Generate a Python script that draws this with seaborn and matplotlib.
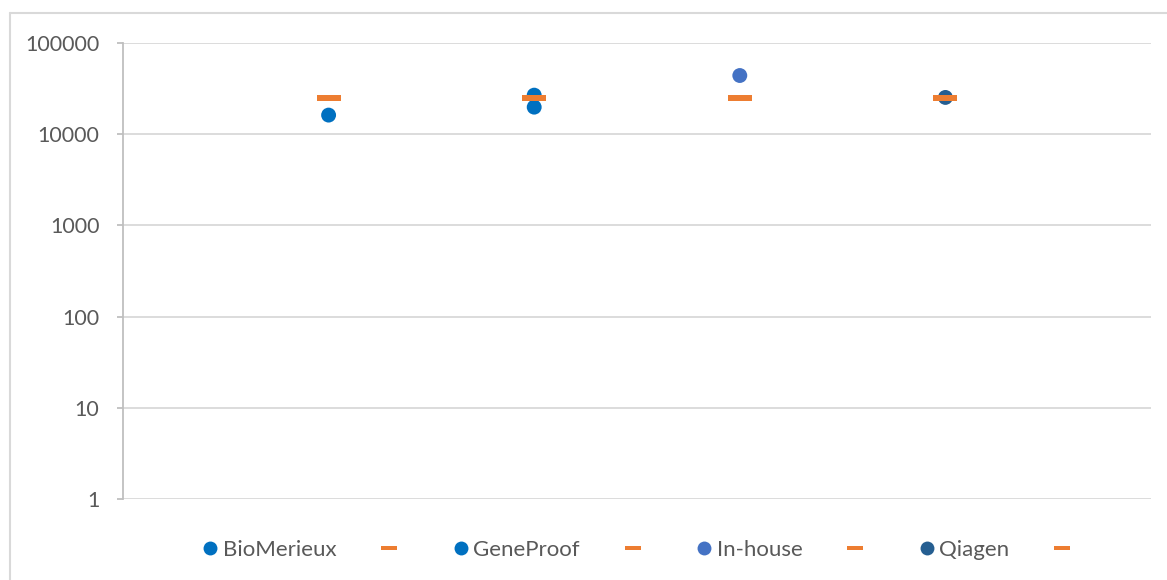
import numpy as np
import pandas as pd
import seaborn as sns
import matplotlib.pyplot as plt
from matplotlib.lines import Line2D
from matplotlib.path import Path

# ---- data ----
series_names = ["BioMerieux", "GeneProof", "In-house", "Qiagen"]
series_x = [1, 2, 3, 4]
biomerieux_vals = [16200]
geneproof_vals = [26800, 19800]
inhouse_vals = [44000]
qiagen_vals = [25300]
reference_vals = [25000, 25000, 25000, 25000]
dot_colors = ["#0070C0", "#0070C0", "#4472C4", "#255E91"]
ref_color = "#ED7D31"
ytick_vals = [1, 10, 100, 1000, 10000, 100000]

sns.set_theme(style="white")
plt.rcParams['font.family'] = ['Lato', 'DejaVu Sans']

rows = []
for name, x, vals in zip(series_names, series_x,
                         [biomerieux_vals, geneproof_vals, inhouse_vals, qiagen_vals]):
    for v in vals:
        rows.append({"series": name, "x": x, "value": v})
dots = pd.DataFrame(rows)
refs = pd.DataFrame({"series": series_names, "x": series_x, "value": reference_vals})

fig = plt.figure(figsize=(11.67, 5.8), dpi=100)
ax = fig.add_axes([123/1167, 1-499/580, (1151-123)/1167, (499-43)/580])

dash = Path([(-1, -0.26), (1, -0.26), (1, 0.26), (-1, 0.26), (-1, -0.26)],
            [Path.MOVETO, Path.LINETO, Path.LINETO, Path.LINETO, Path.CLOSEPOLY])

sns.scatterplot(data=dots, x="x", y="value", hue="series", palette=dot_colors,
                hue_order=series_names, s=115, linewidth=0, legend=False, ax=ax, zorder=3)
sns.scatterplot(data=refs, x="x", y="value", color=ref_color, marker=dash,
                s=280, linewidth=0, legend=False, ax=ax, zorder=4)

ax.set_yscale("log")
ax.set_ylim(1, 100000)
ax.set_xlim(0, 5)
ax.set_yticks(ytick_vals)
ax.set_yticklabels([str(v) for v in ytick_vals])
ax.yaxis.set_minor_locator(plt.NullLocator())
ax.set_xticks([])
ax.set_xlabel("")
ax.set_ylabel("")
ax.grid(axis="y", color="#D9D9D9", linewidth=1.3)
ax.set_axisbelow(True)
for s in ["top", "right", "bottom"]:
    ax.spines[s].set_visible(False)
ax.spines["left"].set_color("#BFBFBF")
ax.spines["left"].set_linewidth(1.3)
ax.tick_params(axis="y", which="major", length=4, width=1.3, color="#BFBFBF",
               colors="#595959", labelsize=15.5, pad=13, left=True)
for lbl in ax.get_yticklabels():
    lbl.set_color("#595959")

# legend
handles, labels = [], []
for name, c in zip(series_names, dot_colors):
    handles.append(Line2D([], [], linestyle="none", marker="o", markersize=10,
                          markerfacecolor=c, markeredgewidth=0))
    labels.append(name)
    handles.append(Line2D([], [], linestyle="none", marker=dash, markersize=11.5,
                          markerfacecolor=ref_color, markeredgewidth=0))
    labels.append(" ")
leg = fig.legend(handles, labels, ncol=8, loc="center", bbox_to_anchor=(0.549, 1-550/580),
                 frameon=False, fontsize=16, handlelength=0.85, handletextpad=0.15,
                 columnspacing=1.95, labelcolor="#595959")

# chart border
fig.add_artist(Line2D([10/1167, 10/1167], [0, 1-13/580], color="#D9D9D9", linewidth=1.5,
                      transform=fig.transFigure))
fig.add_artist(Line2D([10/1167, 1], [1-13/580, 1-13/580], color="#D9D9D9", linewidth=1.5,
                      transform=fig.transFigure))

fig.savefig("out.png", dpi=100)
